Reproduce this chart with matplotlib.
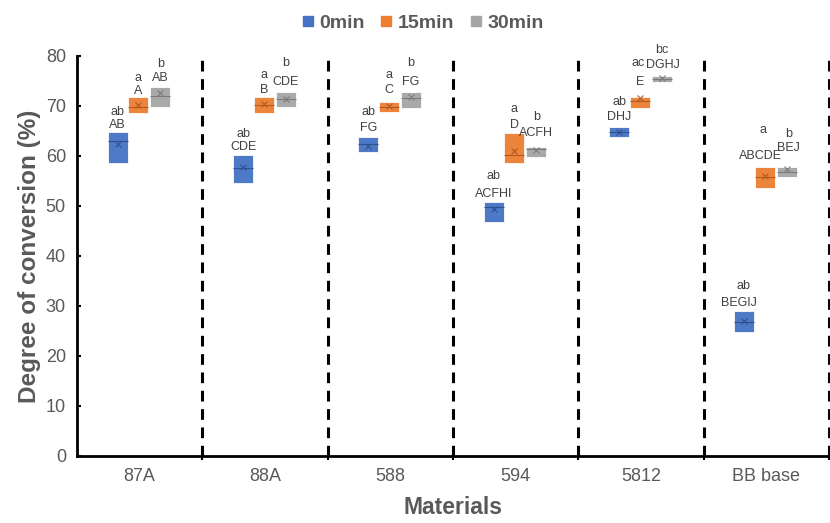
import matplotlib.pyplot as plt
from matplotlib.lines import Line2D

plt.rcParams['font.family'] = ['Liberation Sans', 'DejaVu Sans']

materials = ['87A', '88A', '588', '594', '5812', 'BB base']
times = ['0min', '15min', '30min']

# quartiles, median and mean for every material / time
q1_0 = [58.6, 54.5, 60.7, 46.8, 63.7, 24.8]
q3_0 = [64.7, 60.1, 63.8, 50.8, 65.8, 29.0]
med_0 = [63.0, 57.5, 62.3, 49.7, 64.8, 26.8]
mean_0 = [62.3, 57.8, 62.0, 49.3, 64.8, 26.9]

q1_15 = [68.6, 68.6, 68.7, 58.6, 69.6, 53.6]
q3_15 = [71.8, 71.8, 70.8, 64.6, 71.8, 57.7]
med_15 = [69.8, 70.2, 69.8, 60.1, 71.0, 55.8]
mean_15 = [70.1, 70.4, 70.0, 61.0, 71.5, 56.0]

q1_30 = [69.7, 69.7, 69.6, 59.8, 74.7, 55.7]
q3_30 = [73.7, 72.7, 72.8, 61.8, 75.9, 57.8]
med_30 = [72.0, 71.3, 71.5, 61.3, 75.3, 56.8]
mean_30 = [72.5, 71.3, 71.8, 61.2, 75.6, 57.4]

# significance letters (lowercase: between times, uppercase: between materials)
low_0 = ['ab', 'ab', 'ab', 'ab', 'ab', 'ab']
up_0 = ['AB', 'CDE', 'FG', 'ACFHI', 'DHJ', 'BEGIJ']
low_15 = ['a', 'a', 'a', 'a', 'ac', 'a']
up_15 = ['A', 'B', 'C', 'D', 'E', 'ABCDE']
low_30 = ['b', 'b', 'b', 'b', 'bc', 'b']
up_30 = ['AB', 'CDE', 'FG', 'ACFH', 'DGHJ', 'BEJ']

colors = ['#4472C4', '#ED7D31', '#A5A5A5']
darks = ['#2F528F', '#AE5A21', '#7B7B7B']
offsets = [-0.175, -0.01, 0.165]
box_w = 0.16

# gaps between box top and letters, per series
up_gap = [[1.4, 1.6, 1.8, 1.6, 2.0, 1.5],
          [1.2, 1.3, 2.3, 1.5, 2.9, 2.3],
          [1.9, 2.1, 2.0, 2.7, 2.3, 3.8]]
low_gap = [[4.1, 4.2, 5.0, 5.1, 5.0, 4.9],
           [3.8, 4.3, 5.3, 4.7, 6.7, 7.5],
           [4.6, 5.9, 5.7, 5.9, 5.4, 6.5]]
# small sideways nudges for crowded letters
up_shift = [[0, 0, 0, 0, 0, -0.04],
            [0, 0, 0, 0, 0, -0.04],
            [0, 0, 0, 0, 0.01, 0.01]]
low_shift = [[0, 0, 0, 0, 0, -0.01],
             [0, 0, 0, 0, -0.01, -0.02],
             [0, 0, 0, 0, 0, 0.01]]

series = [(q1_0, q3_0, med_0, mean_0, low_0, up_0),
          (q1_15, q3_15, med_15, mean_15, low_15, up_15),
          (q1_30, q3_30, med_30, mean_30, low_30, up_30)]

fig = plt.figure(figsize=(8.3, 5.23), dpi=100)
ax = fig.add_axes([77 / 830, 1 - 455.7 / 523, 752 / 830, 399.7 / 523])

centers = [i + 0.5 for i in range(len(materials))]

for k, (q1, q3, med, mean, low, up) in enumerate(series):
    stats = []
    pos = []
    for i in range(len(materials)):
        stats.append(dict(q1=q1[i], q3=q3[i], med=med[i], mean=mean[i],
                          whislo=q1[i], whishi=q3[i], fliers=[]))
        pos.append(centers[i] + offsets[k])
    ax.bxp(stats, positions=pos, widths=box_w, patch_artist=True,
           showmeans=True, showcaps=False, showfliers=False,
           boxprops=dict(facecolor=colors[k], edgecolor='#FFFFFF', linewidth=0.6, alpha=0.95),
           medianprops=dict(color=darks[k], linewidth=0.8),
           whiskerprops=dict(linewidth=0),
           meanprops=dict(marker='x', markeredgecolor=darks[k], markersize=5, markeredgewidth=0.8))
    for i in range(len(materials)):
        x = centers[i] + offsets[k]
        ax.text(x + up_shift[k][i], q3[i] + up_gap[k][i], up[i], ha='center', va='center',
                fontsize=9, color='#404040')
        ax.text(x + low_shift[k][i], q3[i] + low_gap[k][i], low[i], ha='center', va='center',
                fontsize=9, color='#404040')

# dashed separators between materials
for b in range(1, len(materials) + 1):
    ax.plot([b, b], [0, 80], color='black', linewidth=2.2,
            linestyle=(0, (3.5, 2.5)), zorder=1, clip_on=False)

ax.set_xlim(0, 6)
ax.set_ylim(0, 80)
ax.set_yticks(range(0, 81, 10))
ax.set_xticks(range(1, 7))
ax.set_xticklabels([])
ax.set_xticks(centers, minor=True)
ax.set_xticklabels(materials, minor=True)
ax.tick_params(axis='x', which='minor', length=0, pad=9, labelsize=13, labelcolor='#595959')
ax.tick_params(axis='x', which='major', direction='out', length=3, width=1.5)
ax.tick_params(axis='y', direction='in', length=3, width=1.5, labelsize=13,
               labelcolor='#595959', pad=8)
for s in ['top', 'right']:
    ax.spines[s].set_visible(False)
for s in ['left', 'bottom']:
    ax.spines[s].set_linewidth(2)

ax.set_xlabel('Materials', fontsize=16.5, fontweight='bold', color='#595959', labelpad=8)
ax.set_ylabel('Degree of conversion (%)', fontsize=17.5, fontweight='bold', color='#595959', labelpad=3)

handles = [Line2D([], [], marker='s', linestyle='none', markersize=7,
                  markerfacecolor=c, markeredgecolor=c) for c in colors]
fig.legend(handles, times, loc='center', bbox_to_anchor=(423 / 830, 1 - 23 / 523),
           ncol=3, frameon=False, handlelength=0.6, handletextpad=0.3, columnspacing=0.8,
           prop=dict(weight='bold', size=14), labelcolor='#595959')

fig.savefig('out.png', dpi=100)
